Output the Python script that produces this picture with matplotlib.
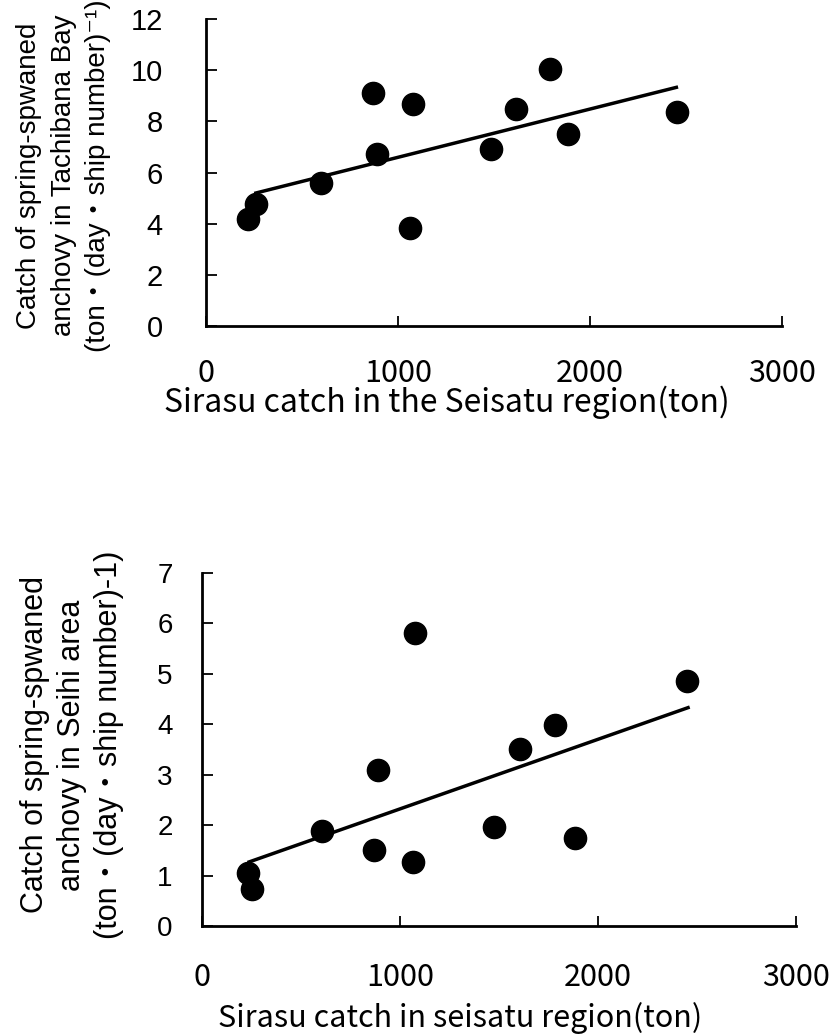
import matplotlib.pyplot as plt

# datos: captura de sirasu (ton) frente a captura de anchoa de puesta primaveral
sirasu_bahia = [219, 260, 599, 870, 890, 1080, 1063, 1484, 1615, 1792, 1885, 2453]
anchoa_bahia = [4.18, 4.77, 5.59, 9.1, 6.72, 8.67, 3.83, 6.91, 8.47, 10.04, 7.5, 8.36]
recta_bahia_x = [260, 2450]
recta_bahia_y = [5.2, 9.33]

sirasu_seihi = [232, 252, 605, 869, 889, 1074, 1066, 1474, 1608, 1785, 1884, 2449]
anchoa_seihi = [1.05, 0.73, 1.88, 1.51, 3.1, 5.82, 1.27, 1.96, 3.51, 3.99, 1.75, 4.86]
recta_seihi_x = [238, 2455]
recta_seihi_y = [1.27, 4.33]

ticks_x = [0, 1000, 2000, 3000]

fuente_y = ["Liberation Sans", "Noto Sans CJK JP", "DejaVu Sans"]
fuente_x = ["Noto Sans CJK JP", "DejaVu Sans"]

fig = plt.figure(figsize=(8.34, 10.36), dpi=100)


def preparar_ejes(ax, ymax, yticks, pad_x, pad_y, tam_y):
    # solo ejes izquierdo e inferior, marcas hacia dentro
    ax.spines["top"].set_visible(False)
    ax.spines["right"].set_visible(False)
    ax.spines["left"].set_linewidth(2)
    ax.spines["bottom"].set_linewidth(2)
    ax.set_xlim(0, 3000)
    ax.set_ylim(0, ymax)
    ax.set_xticks(ticks_x)
    ax.set_yticks(yticks)
    ax.tick_params(axis="x", direction="in", length=7, width=1.3, pad=pad_x)
    ax.tick_params(axis="y", direction="in", length=8, width=1.3, pad=pad_y)
    for t in ax.get_xticklabels():
        t.set_family(fuente_x)
        t.set_fontsize(22)
    for t in ax.get_yticklabels():
        t.set_family(fuente_y)
        t.set_fontsize(tam_y)


# grafica superior: bahia de Tachibana
ax1 = fig.add_axes([0.247, 0.6853, 0.6906, 0.2963])
ax1.plot(recta_bahia_x, recta_bahia_y, color="black", linewidth=2.5)
ax1.plot(sirasu_bahia, anchoa_bahia, "o", color="black", markersize=16)
preparar_ejes(ax1, 12, range(0, 13, 2), 23, 31, 21)
ax1.set_xlabel("Sirasu catch in the Seisatu region(ton)",
               family=fuente_x, fontsize=23, va="center", ha="center")
ax1.xaxis.set_label_coords(0.419, -0.25)
ax1.set_ylabel("Catch of spring-spwaned\nanchovy in Tachibana Bay\n(ton・(day・ship number)\u207b\u00b9)",
               family=fuente_y, fontsize=20, va="center", ha="center",
               linespacing=1.42)
ax1.yaxis.set_label_coords(-0.247, 0.49)

# grafica inferior: zona Seihi
ax2 = fig.add_axes([0.2422, 0.1062, 0.7122, 0.3407])
ax2.plot(recta_seihi_x, recta_seihi_y, color="black", linewidth=2.5)
ax2.plot(sirasu_seihi, anchoa_seihi, "o", color="black", markersize=16)
preparar_ejes(ax2, 7, range(0, 8), 26, 21, 20)
ax2.set_xlabel("Sirasu catch in seisatu region(ton)",
               family=fuente_x, fontsize=22, va="center", ha="center")
ax2.xaxis.set_label_coords(0.434, -0.262)
ax2.set_ylabel("Catch of spring-spwaned\nanchovy in Seihi area\n(ton・(day・ship number)-1)",
               family=fuente_y, fontsize=22, va="center", ha="center",
               linespacing=1.3)
ax2.yaxis.set_label_coords(-0.219, 0.513)

plt.savefig("out.png", dpi=100)
